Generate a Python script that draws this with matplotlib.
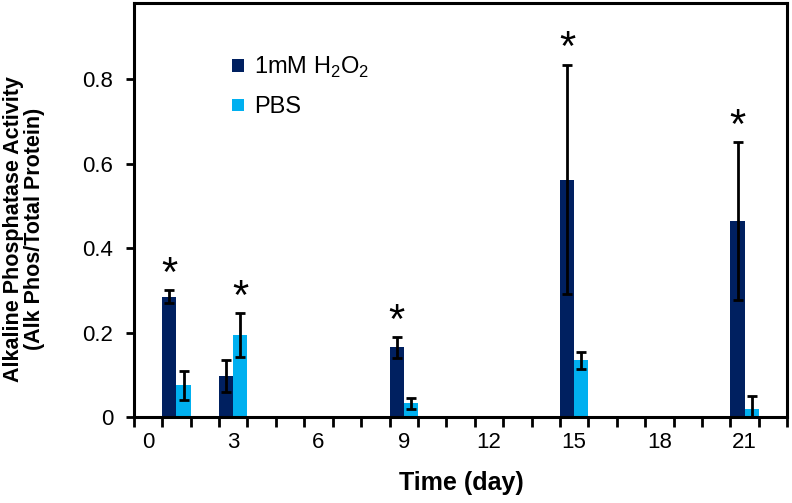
"""Alkaline phosphatase activity, H2O2 vs PBS, bar chart with error bars"""
import numpy as np
import matplotlib
matplotlib.use('Agg')
import matplotlib.pyplot as plt
from matplotlib.ticker import FixedLocator, FuncFormatter

plt.rcParams['font.family'] = ['Liberation Sans', 'DejaVu Sans']
plt.rcParams['mathtext.fontset'] = 'custom'
plt.rcParams['mathtext.rm'] = 'Liberation Sans'

DAYS = [1, 3, 9, 15, 21]
H2O2 = [0.285, 0.096, 0.165, 0.562, 0.464]
H2O2_ERR = [0.015, 0.038, 0.025, 0.272, 0.186]
PBS = [0.075, 0.193, 0.032, 0.134, 0.020]
PBS_ERR = [0.035, 0.052, 0.014, 0.020, 0.030]
# which bar carries the significance star: 0 = H2O2, 1 = PBS
STAR_ON = [0, 1, 0, 0, 0]
XTICK_LABELS = [0, 3, 6, 9, 12, 15, 18, 21]

C_H2O2 = '#002060'
C_PBS = '#00B0F0'

fig = plt.figure(figsize=(7.92, 5.03), dpi=100)
ax = fig.add_axes([0.169, 0.171, 0.825, 0.823])

x = np.array(DAYS, dtype=float)
w = 0.5
ekw = dict(ecolor='black', elinewidth=2, capsize=3.5, capthick=2)
ax.bar(x - w/2, H2O2, w, color=C_H2O2, label='1mM H$_2$O$_2$',
       yerr=H2O2_ERR, error_kw=ekw, zorder=2)
ax.bar(x + w/2, PBS, w, color=C_PBS, label='PBS',
       yerr=PBS_ERR, error_kw=ekw, zorder=2)

for i, d in enumerate(DAYS):
    if STAR_ON[i] == 0:
        xs, top = d - w/2, H2O2[i] + H2O2_ERR[i]
    else:
        xs, top = d + w/2, PBS[i] + PBS_ERR[i]
    ax.text(xs, top + 0.01, '*', ha='center', va='baseline',
            fontsize=30, color='black')

ax.set_xlim(-0.5, 22.5)
ax.set_ylim(0, 0.98)

# category-style axis: tick marks between categories, labels every 3rd
ax.xaxis.set_major_locator(FixedLocator(XTICK_LABELS))
ax.xaxis.set_minor_locator(FixedLocator(np.arange(-0.5, 23, 1.0)))
ax.tick_params(axis='x', which='major', length=0, pad=11, labelsize=16)
ax.tick_params(axis='x', which='minor', length=7, width=2, direction='out')
ax.set_yticks([0, 0.2, 0.4, 0.6, 0.8])
ax.yaxis.set_major_formatter(FuncFormatter(lambda v, p: '0' if v == 0 else f'{v:.1f}'))
ax.tick_params(axis='y', length=6, width=2, direction='out', labelsize=16, pad=9)

for s in ax.spines.values():
    s.set_linewidth(2.2)

fig.text(461/792, 1 - 483/503, 'Time (day)', ha='center', va='center',
         fontsize=18, fontweight='bold')
fig.text(24/792, 1 - 229/503,
         'Alkaline Phosphatase Activity\n(Alk Phos/Total Protein)',
         ha='center', va='center', rotation=90, fontsize=15.5,
         fontweight='bold', linespacing=0.95)

ax.legend(loc='upper left', bbox_to_anchor=(0.150, 0.875), frameon=False,
          fontsize=17, handlelength=0.5, handleheight=0.45,
          handletextpad=0.45, labelspacing=0.7, borderpad=0,
          borderaxespad=0)

fig.savefig('out.png', dpi=100)
